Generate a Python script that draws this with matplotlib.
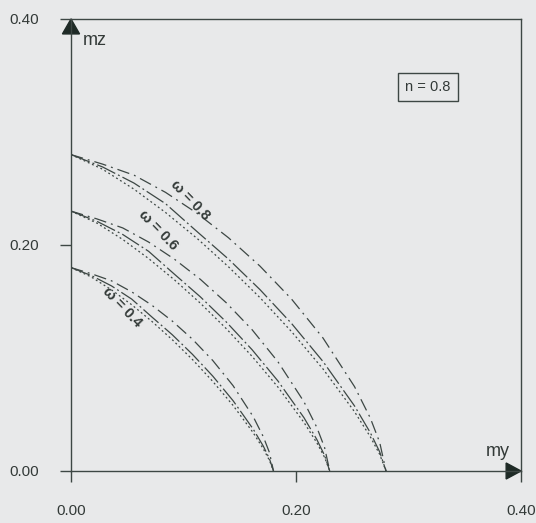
import numpy as np
import matplotlib.pyplot as plt
from matplotlib.patches import Polygon

plt.rcParams['font.family'] = ['Liberation Sans', 'DejaVu Sans']

# точки кривых взаимодействия (m_y, m_z)
omega = [0.4, 0.6, 0.8]

my_04 = [0, .018, .036, .054, .072, .090, .108, .126, .144, .162, .171, .1764, .180]
mz_04_mid = [.180, .1730, .1638, .1521, .1362, .1206, .1032, .0840, .0623, .0370, .0219, .0108, 0]
mz_04_out = [.180, .1746, .1683, .1585, .1466, .1327, .1166, .0978, .0756, .0480, .0302, .0163, 0]
mz_04_in = [.180, .1717, .1603, .1471, .1323, .1162, .0986, .0793, .0581, .0338, .0195, .0094, 0]

my_06 = [0, .023, .046, .069, .092, .115, .138, .161, .184, .207, .2185, .2254, .230]
mz_06_mid = [.230, .2210, .2093, .1944, .1741, .1541, .1319, .1073, .0796, .0473, .0279, .0138, 0]
mz_06_out = [.230, .2231, .2151, .2026, .1874, .1696, .1489, .1250, .0966, .0614, .0386, .0208, 0]
mz_06_in = [.230, .2194, .2049, .1880, .1691, .1485, .1260, .1014, .0742, .0431, .0250, .0121, 0]

my_08 = [0, .028, .056, .084, .112, .140, .168, .196, .224, .252, .266, .2744, .280]
mz_08_mid = [.280, .2691, .2548, .2366, .2119, .1875, .1605, .1306, .0969, .0576, .0340, .0169, 0]
mz_08_out = [.280, .2716, .2618, .2466, .2281, .2064, .1813, .1522, .1177, .0747, .0470, .0253, 0]
mz_08_in = [.280, .2671, .2494, .2288, .2059, .1807, .1534, .1234, .0903, .0525, .0304, .0147, 0]

# подписи кривых
lab_x = [0.0453, 0.0773, 0.1058]
lab_y = [0.1451, 0.2133, 0.2398]

ticks = [0.0, 0.2, 0.4]
tick_labels = ['0.00', '0.20', '0.40']

bg = '#e8e9ea'
lc = '#3d4744'
tc = '#333a38'

fig = plt.figure(figsize=(5.36, 5.23), dpi=100, facecolor=bg)
ax = fig.add_axes([71/536, 1 - 471/523, 450/536, 452/523])
ax.set_facecolor(bg)

ls_out = (0, (10, 4, 1.5, 4))
ls_mid = (0, (16, 2.5, 1.5, 2.5))
ls_in = (0, (1.5, 2.2))

curves = [(my_04, mz_04_out, mz_04_mid, mz_04_in),
          (my_06, mz_06_out, mz_06_mid, mz_06_in),
          (my_08, mz_08_out, mz_08_mid, mz_08_in)]
for x, yo, ym, yi in curves:
    ax.plot(x, yo, color=lc, lw=0.9, ls=ls_out)
    ax.plot(x, ym, color=lc, lw=0.9, ls=ls_mid)
    ax.plot(x, yi, color=lc, lw=0.9, ls=ls_in)

for w, xx, yy in zip(omega, lab_x, lab_y):
    ax.text(xx, yy, '\u03c9 = ' + str(w), rotation=-46, ha='center', va='center',
            fontsize=10.5, fontweight='bold', color=tc)

ax.set_xlim(0, 0.4)
ax.set_ylim(0, 0.4)
ax.set_xticks(ticks)
ax.set_yticks(ticks)
ax.set_xticklabels(tick_labels)
ax.set_yticklabels(tick_labels)
ax.tick_params(axis='both', direction='out', length=8, width=1, color=lc,
               labelsize=11, labelcolor=tc)
ax.tick_params(axis='x', pad=16)
ax.tick_params(axis='y', pad=15)
for s in ax.spines.values():
    s.set_color(lc)
    s.set_linewidth(1)

# стрелки осей
ax.add_patch(Polygon([[0, 1], [-0.019, 0.967], [0.019, 0.967]], closed=True,
                     transform=ax.transAxes, color='#1e2a26', clip_on=False))
ax.add_patch(Polygon([[1, 0], [0.967, 0.0177], [0.967, -0.0177]], closed=True,
                     transform=ax.transAxes, color='#1e2a26', clip_on=False))

ax.text(0.053, 0.9535, 'mz', transform=ax.transAxes, ha='center', va='center',
        fontsize=13, color=tc)
ax.text(0.949, 0.044, 'my', transform=ax.transAxes, ha='center', va='center',
        fontsize=13, color=tc)

ax.text(0.793, 0.8496, 'n = 0.8', transform=ax.transAxes, ha='center', va='center',
        fontsize=10.5, color=tc,
        bbox=dict(boxstyle='square,pad=0.5', fc=bg, ec=lc, lw=1))

fig.savefig('out.png', dpi=100, facecolor=bg)
